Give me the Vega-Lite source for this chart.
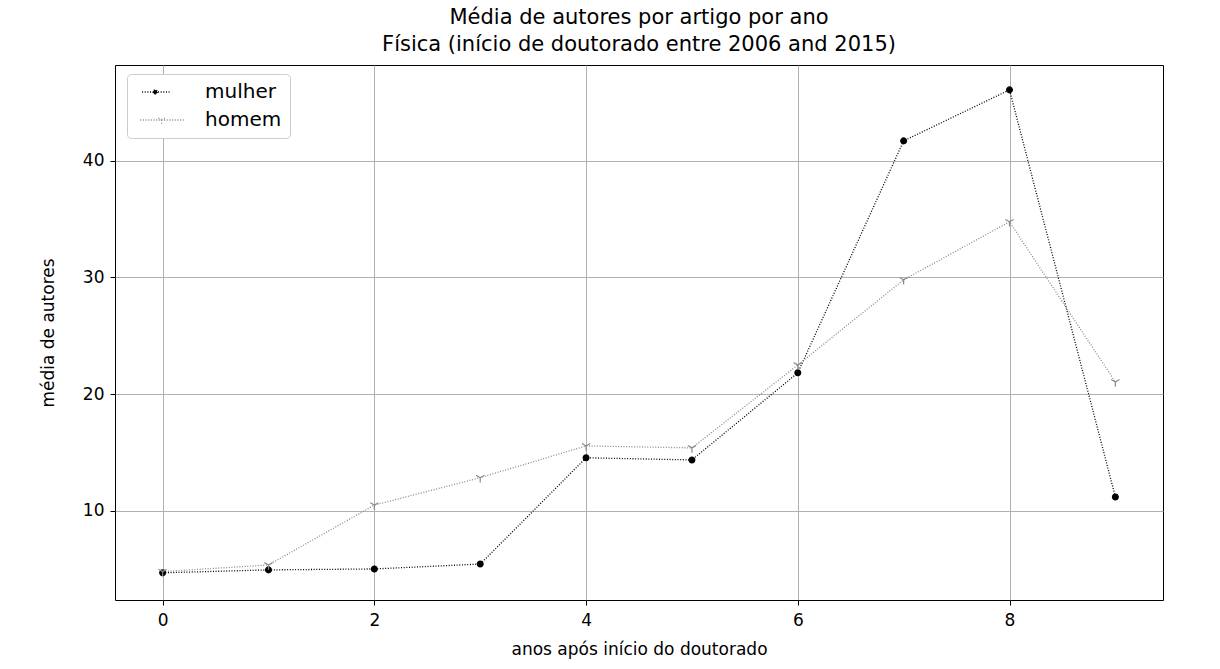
{
  "$schema": "https://vega.github.io/schema/vega-lite/v6.json",
  "width": 1048,
  "height": 535,
  "autosize": {"type": "none"},
  "padding": {"left": 115, "top": 65, "right": 57, "bottom": 69},
  "background": "white",
  "title": {
    "text": ["Média de autores por artigo por ano", "Física (início de doutorado entre 2006 and 2015)"],
    "font": "DejaVu Sans",
    "fontSize": 21,
    "fontWeight": "normal",
    "color": "black",
    "lineHeight": 27,
    "offset": 10,
    "anchor": "middle"
  },
  "data": {
    "values": [
      {"ano": 0, "genero": "mulher", "media": 4.7},
      {"ano": 1, "genero": "mulher", "media": 4.95},
      {"ano": 2, "genero": "mulher", "media": 5.03},
      {"ano": 3, "genero": "mulher", "media": 5.45},
      {"ano": 4, "genero": "mulher", "media": 14.55},
      {"ano": 5, "genero": "mulher", "media": 14.37},
      {"ano": 6, "genero": "mulher", "media": 21.83},
      {"ano": 7, "genero": "mulher", "media": 41.7},
      {"ano": 8, "genero": "mulher", "media": 46.07},
      {"ano": 9, "genero": "mulher", "media": 11.2},
      {"ano": 0, "genero": "homem", "media": 4.8},
      {"ano": 1, "genero": "homem", "media": 5.37},
      {"ano": 2, "genero": "homem", "media": 10.5},
      {"ano": 3, "genero": "homem", "media": 12.85},
      {"ano": 4, "genero": "homem", "media": 15.57},
      {"ano": 5, "genero": "homem", "media": 15.4},
      {"ano": 6, "genero": "homem", "media": 22.5},
      {"ano": 7, "genero": "homem", "media": 29.8},
      {"ano": 8, "genero": "homem", "media": 34.77},
      {"ano": 9, "genero": "homem", "media": 21.05}
    ]
  },
  "encoding": {
    "x": {
      "field": "ano",
      "type": "quantitative",
      "scale": {"domain": [-0.45, 9.45], "nice": false, "zero": false},
      "axis": {
        "values": [0, 2, 4, 6, 8],
        "title": "anos após início do doutorado",
        "format": "d",
        "labelPadding": 7,
        "titlePadding": 13
      }
    },
    "y": {
      "field": "media",
      "type": "quantitative",
      "scale": {"domain": [2.37, 48.2], "nice": false, "zero": false},
      "axis": {
        "values": [10, 20, 30, 40],
        "title": "média de autores",
        "format": "d",
        "labelPadding": 6,
        "titlePadding": 25
      }
    }
  },
  "layer": [
    {
      "mark": {"type": "line", "strokeDash": [1, 1.65], "strokeWidth": 1.3},
      "encoding": {
        "color": {
          "field": "genero",
          "type": "nominal",
          "scale": {"domain": ["mulher", "homem"], "range": ["#000000", "#8a8a8a"]},
          "legend": {
            "title": null,
            "orient": "none",
            "legendX": 12,
            "legendY": 9,
            "padding": 8,
            "strokeColor": "#cccccc",
            "fillColor": "white",
            "cornerRadius": 4,
            "symbolType": "M-1,0L8.4,0",
            "symbolSize": 100,
            "symbolStrokeWidth": 1.3,
            "symbolDash": [1, 1.65],
            "labelOffset": 50,
            "labelFontSize": 20,
            "labelFont": "DejaVu Sans",
            "labelColor": "black",
            "rowPadding": 8,
            "encode": {
              "symbols": {
                "update": {
                  "shape": {"signal": "datum.value === 'mulher' ? 'M-1,0L8.4,0M4.2,0A0.7,0.7 0 1,1 2.8,0A0.7,0.7 0 1,1 4.2,0Z' : 'M-1,0L8.4,0M3.5,0L3.5,1M3.5,0L2.63,-0.5M3.5,0L4.37,-0.5'"},
                  "size": {"value": 100},
                  "fill": {"signal": "datum.value === 'mulher' ? '#000000' : 'transparent'"},
                  "fillOpacity": {"value": 1},
                  "strokeDash": {"value": [1, 1.65]}
                }
              }
            }
          }
        }
      }
    },
    {
      "mark": {"type": "point", "filled": true, "opacity": 1, "strokeWidth": 1.2},
      "encoding": {
        "shape": {
          "field": "genero",
          "type": "nominal",
          "scale": {"domain": ["mulher", "homem"], "range": ["circle", "M0,0L0,1M0,0L-0.866,-0.5M0,0L0.866,-0.5"]},
          "legend": null
        },
        "fill": {
          "field": "genero",
          "type": "nominal",
          "scale": {"domain": ["mulher", "homem"], "range": ["#000000", "#8a8a8a"]},
          "legend": null
        },
        "stroke": {
          "field": "genero",
          "type": "nominal",
          "scale": {"domain": ["mulher", "homem"], "range": ["#000000", "#8a8a8a"]},
          "legend": null
        },
        "size": {
          "field": "genero",
          "type": "nominal",
          "scale": {"domain": ["mulher", "homem"], "range": [34, 90]},
          "legend": null
        }
      }
    }
  ],
  "resolve": {"scale": {"shape": "independent"}},
  "config": {
    "font": "DejaVu Sans",
    "view": {"stroke": "black", "strokeWidth": 1},
    "axis": {
      "domain": false,
      "grid": true,
      "gridColor": "#b0b0b0",
      "gridWidth": 1,
      "gridOpacity": 1,
      "ticks": true,
      "tickColor": "black",
      "tickSize": 5,
      "tickWidth": 1,
      "labelFont": "DejaVu Sans",
      "labelFontSize": 17,
      "labelColor": "black",
      "labelPadding": 4,
      "titleFont": "DejaVu Sans",
      "titleFontSize": 17,
      "titleFontWeight": "normal",
      "titleColor": "black"
    }
  }
}
